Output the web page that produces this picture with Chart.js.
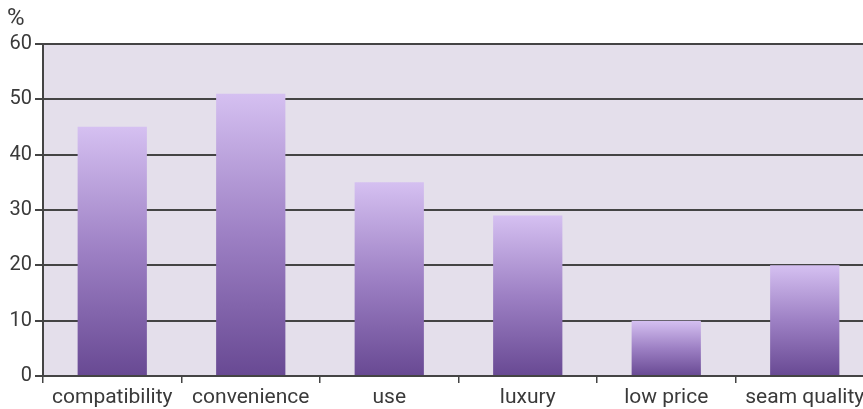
<!DOCTYPE html>
<html>
<head>
<meta charset="utf-8">
<script src="https://cdn.jsdelivr.net/npm/chart.js@4/dist/chart.umd.min.js"></script>
<style>
    html, body { margin: 0; padding: 0; background: #fff; overflow: hidden; }
    #wrap { width: 874px; height: 409px; }
</style>
</head>
<body>
<div id="wrap"><canvas id="chart"></canvas></div>
<script>
// chart data
const categories = ['compatibility', 'convenience', 'use', 'luxury', 'low price', 'seam quality'];
const shares = [45, 51, 35, 29, 10, 20];
const yTicks = [0, 10, 20, 30, 40, 50, 60];

// plot background
const plotBackground = {
    id: 'plotBackground',
    beforeDraw(chart) {
        const { ctx, chartArea } = chart;
        ctx.save();
        ctx.fillStyle = '#e4dfeb';
        ctx.fillRect(chartArea.left, chartArea.top, chartArea.right - chartArea.left, chartArea.bottom - chartArea.top);
        ctx.restore();
    }
};

// each bar gets its own light-to-dark gradient
function barGradient(context) {
    const chart = context.chart;
    if (!chart.chartArea) return '#9a7cc4';
    const y = chart.scales.y;
    const top = y.getPixelForValue(context.raw);
    const bottom = y.getPixelForValue(0);
    const g = chart.ctx.createLinearGradient(0, top, 0, bottom);
    g.addColorStop(0, '#d5c0f1');
    g.addColorStop(0.5, '#9d80c4');
    g.addColorStop(1, '#684993');
    return g;
}

const ctx = document.getElementById('chart').getContext('2d');
new Chart(ctx, {
    type: 'bar',
    data: {
        labels: categories,
        datasets: [{
            data: shares,
            backgroundColor: barGradient,
            borderWidth: 0,
            barPercentage: 0.5,
            categoryPercentage: 1
        }]
    },
    options: {
        responsive: true,
        maintainAspectRatio: false,
        animation: false,
        layout: { padding: { left: 7, right: 0, top: 0, bottom: 0 } },
        plugins: {
            legend: { display: false },
            tooltip: { enabled: false },
            title: {
                display: true,
                text: '%',
                align: 'start',
                color: '#3a3a3a',
                font: { family: 'Roboto', size: 24, weight: 'normal' },
                padding: { top: 5, bottom: 10 }
            }
        },
        scales: {
            x: {
                offset: true,
                afterFit(scale) {
                    scale.height = 33;
                },
                grid: {
                    offset: true,
                    drawOnChartArea: false,
                    drawTicks: true,
                    tickLength: 7,
                    color: '#444',
                    lineWidth: 1.5
                },
                border: { color: '#444', width: 2 },
                ticks: {
                    color: '#3a3a3a',
                    padding: 2,
                    font: { family: 'Roboto', size: 21 }
                }
            },
            y: {
                min: 0,
                max: 60,
                afterBuildTicks(scale) {
                    scale.ticks = yTicks.map(v => ({ value: v }));
                },
                afterFit(scale) {
                    scale.width = 36;
                },
                grid: {
                    color: '#444',
                    lineWidth: 2,
                    tickLength: 8,
                    drawTicks: true
                },
                border: { color: '#444', width: 2 },
                ticks: {
                    color: '#3a3a3a',
                    padding: 3,
                    font: { family: 'Roboto', size: 20 }
                }
            }
        }
    },
    plugins: [plotBackground]
});
</script>
</body>
</html>
